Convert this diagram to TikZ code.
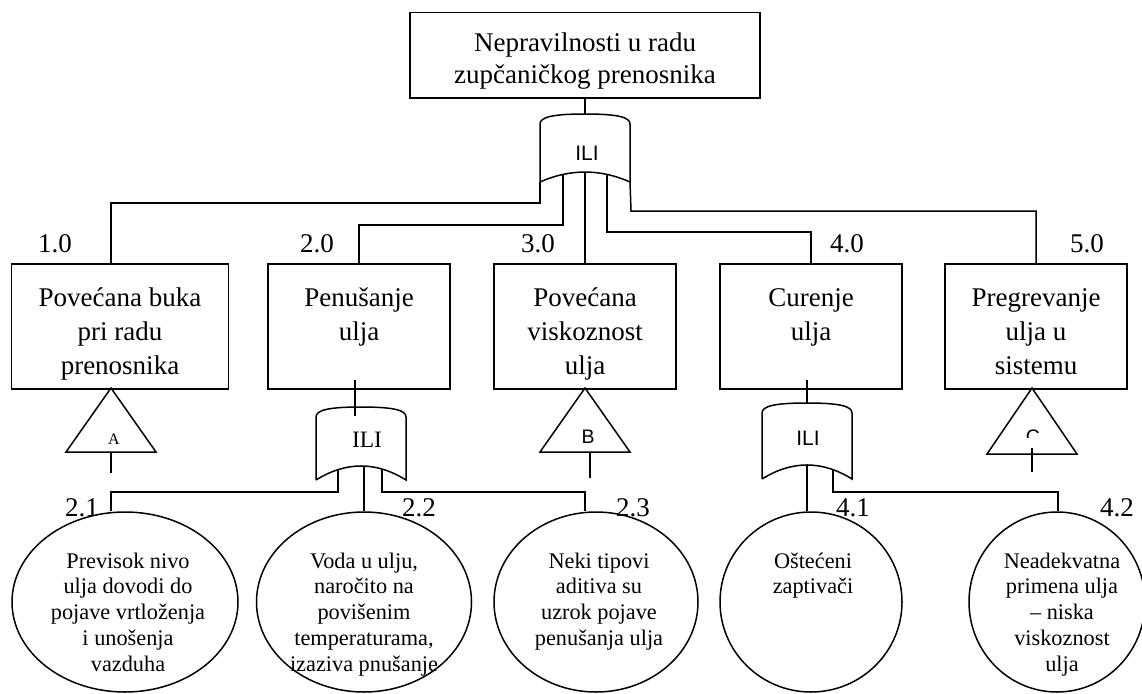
\documentclass[tikz,border=0pt]{standalone}
\usepackage{fontspec}
\setmainfont{Liberation Serif}
\setsansfont{Liberation Sans}
\usetikzlibrary{shapes.geometric}

% ILI gate: name, x, top y, bottom y, bottom bend
\newcommand{\iligate}[5]{%
  \draw (#2-45,#4) -- (#2-45,#3+10) .. controls (#2-45,#3+3) and (#2-32,#3) .. (#2,#3)
    .. controls (#2+32,#3) and (#2+45,#3+3) .. (#2+45,#3+10) -- (#2+45,#4)
    .. controls (#2+15,#4-#5) and (#2-15,#4-#5) .. (#2-45,#4);
  \coordinate (#1-top) at (#2,#3);
  \coordinate (#1-l) at (#2-45,#4);
  \coordinate (#1-r) at (#2+45,#4);
}
% transfer triangle: name, x, apex y, base y
\newcommand{\faulttri}[4]{%
  \draw (#2,#3) -- (#2+45,#4) -- (#2-45,#4) -- cycle;
  \coordinate (#1-b) at (#2,#4);
}
% lines of a label, baseline on the first one
\newcommand{\ftxt}[1]{\begin{tabular}[t]{@{}c@{}}#1\end{tabular}}

\begin{document}
\begin{tikzpicture}[x=1pt,y=-1pt,line width=1.5pt]
  \tikzset{
    topbox/.style={draw, anchor=north, minimum width=350pt, inner xsep=4pt, inner ysep=0pt, text height=39pt, text depth=46pt, font=\fontsize{27}{32}\selectfont},
    evbox/.style={draw, anchor=north, minimum width=182pt, inner xsep=4pt, inner ysep=0pt, text height=43pt, text depth=82pt, font=\fontsize{27}{34}\selectfont},
    basic/.style={draw, ellipse, minimum height=180pt, inner sep=0pt},
    basictxt/.style={anchor=base, inner sep=0pt, font=\fontsize{22.3}{25.8}\selectfont},
    num/.style={anchor=base, inner sep=0pt, font=\fontsize{27}{32}\selectfont},
    ilisans/.style={inner sep=0pt, font=\sffamily\fontsize{21}{25}\selectfont},
  }
  \useasboundingbox (0,0) rectangle (1142,693);

  \node (n0) at (585,12) [topbox] {\ftxt{Nepravilnosti u radu\\zupčaničkog prenosnika}};

  \node (n1) at (120,263) [evbox, minimum width=217pt] {\ftxt{Povećana buka\\pri radu\\prenosnika}};
  \node (n2) at (359,263) [evbox] {\ftxt{Penušanje\\ulja}};
  \node (n3) at (585,263) [evbox] {\ftxt{Povećana\\viskoznost\\ulja}};
  \node (n4) at (811,263) [evbox] {\ftxt{Curenje\\ulja}};
  \node (n5) at (1036,263) [evbox] {\ftxt{Pregrevanje\\ulja u\\sistemu}};

  \node (l1) at (55,252) [num] {1.0};
  \node (l2) at (317,252) [num] {2.0};
  \node (l3) at (538,252) [num] {3.0};
  \node (l4) at (847,252) [num] {4.0};
  \node (l5) at (1087,252) [num] {5.0};

  % gates
  \iligate{g0}{585}{114}{182}{13.3}
  \node (i0) at (587,153) [ilisans] {ILI};
  \iligate{g2}{361}{407}{480}{18.7}
  \node (i2) at (367,440) [inner sep=0pt, font=\fontsize{23.5}{28}\selectfont] {ILI};
  \iligate{g4}{807}{403}{479}{18.7}
  \node (i4) at (808,438) [ilisans] {ILI};

  \coordinate (g0-a) at (563,174.4);
  \coordinate (g0-m) at (585,172);
  \coordinate (g0-b) at (607,174.4);
  \coordinate (g2-a) at (338,469.7);
  \coordinate (g2-m) at (364,466.1);
  \coordinate (g2-b) at (382,469);
  \coordinate (g4-m) at (807,465);
  \coordinate (g4-b) at (833,469.7);

  \draw (n0.south) -- (g0-top);
  \draw (g0-l) -- (540,203) -| ([xshift=-9pt]n1.north);
  \draw (g0-a) -- (563,225) -| (n2.north);
  \draw (g0-m) -- (n3.north);
  \draw (g0-b) -- (607,232) -| (n4.north);
  \draw (g0-r) -- (631,211) -| (n5.north);

  \draw ([xshift=-4pt,yshift=10pt]n2.south) -- ([xshift=-6pt,yshift=-9pt]g2-top);
  \draw ([xshift=-4pt,yshift=10pt]n4.south) -- (g4-top);

  % triangles
  \faulttri{ta}{111}{388}{452}
  \node (a) at (114,439) [inner sep=0pt, font=\fontsize{16}{19}\selectfont] {A};
  \draw (ta-b) -- (111,473);
  \faulttri{tb}{585}{388}{452}
  \node (b) at (588,437) [inner sep=0pt, font=\sffamily\fontsize{19.5}{23}\selectfont] {B};
  \draw ([xshift=5pt]tb-b) -- (590,478);
  \faulttri{tc}{1032}{388}{454}
  \begin{scope}
    \clip (990,400) rectangle (1080,437);
    \node (c) at (1033,437) [inner sep=0pt, font=\sffamily\fontsize{19.5}{23}\selectfont] {C};
  \end{scope}
  \draw (1032,448) -- (1032,472);

  % basic events
  \node (e21) at (125,602) [basic, minimum width=226pt] {};
  \node (e22) at (364,602) [basic, minimum width=215pt] {};
  \node (e23) at (596,602) [basic, minimum width=204pt] {};
  \node (e41) at (811,602) [basic, minimum width=182pt] {};
  \node (e42) at (1057,602) [basic, minimum width=176pt] {};

  \node (t21) at (128,568) [basictxt] {\ftxt{Previsok nivo\\ulja dovodi do\\pojave vrtloženja\\i unošenja\\vazduha}};
  \node (t22) at (364,568) [basictxt] {\ftxt{Voda u ulju,\\naročito na\\povišenim\\temperaturama,\\izaziva pnušanje}};
  \node (t23) at (599,568) [basictxt] {\ftxt{Neki tipovi\\aditiva su\\uzrok pojave\\penušanja ulja}};
  \node (t41) at (813,568) [basictxt] {\ftxt{Oštećeni\\zaptivači}};
  \node (t42) at (1062,568) [basictxt] {\ftxt{Neadekvatna\\primena ulja\\– niska\\viskoznost\\ulja}};

  \node (l21) at (82,516) [num] {2.1};
  \node (l22) at (419,516) [num] {2.2};
  \node (l23) at (633,516) [num] {2.3};
  \node (l41) at (853,516) [num] {4.1};
  \node (l42) at (1117,516) [num] {4.2};

  \draw (g2-a) -- (338,492) -| ([xshift=-14pt]e21.north);
  \draw (g2-m) -- (e22.north);
  \draw (g2-b) -- (382,492) -| ([xshift=-11pt]e23.north);
  \draw (g4-m) -- ([xshift=-4pt]e41.north);
  \draw (g4-b) -- (833,492) -| ([xshift=1pt]e42.north);
\end{tikzpicture}
\end{document}
